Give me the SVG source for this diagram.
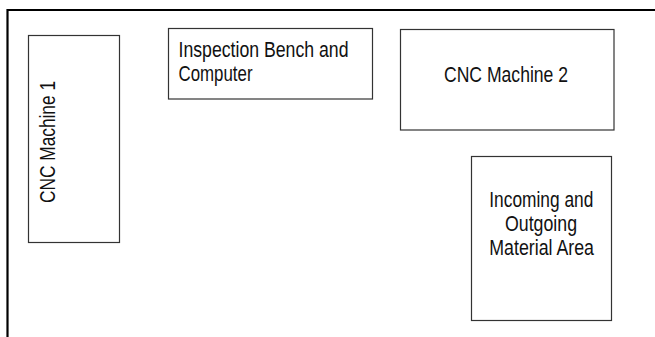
<svg xmlns="http://www.w3.org/2000/svg" width="655" height="337" viewBox="0 0 655 337">
<style>
.box{fill:#ffffff;stroke:#333333;stroke-width:1.2}
.lbl{font-family:"Liberation Sans",Arial,sans-serif;font-size:22px;fill:#111111}
.frame{fill:none;stroke:#000000;stroke-width:2.2}
</style>
<rect x="0" y="0" width="655" height="337" fill="#ffffff"/>
<g id="connectors">
<path class="frame" d="M7.5,337 V10 H655"/>
</g>
<g id="cnc1">
<rect class="box" x="28.5" y="35.5" width="91" height="207"/>
<text class="lbl" transform="translate(55,203) rotate(-90)" x="0" y="0" textLength="122" lengthAdjust="spacingAndGlyphs">CNC Machine 1</text>
</g>
<g id="inspection">
<rect class="box" x="168.5" y="28.5" width="204" height="70.5"/>
<text class="lbl" x="178.5" y="57" textLength="170" lengthAdjust="spacingAndGlyphs">Inspection Bench and</text>
<text class="lbl" x="178.5" y="80.5" textLength="74" lengthAdjust="spacingAndGlyphs">Computer</text>
</g>
<g id="cnc2">
<rect class="box" x="400.5" y="29.5" width="213.5" height="100.5"/>
<text class="lbl" x="444" y="82" textLength="124" lengthAdjust="spacingAndGlyphs">CNC Machine 2</text>
</g>
<g id="material">
<rect class="box" x="471.5" y="156.5" width="140" height="164"/>
<text class="lbl" x="489.3" y="207" textLength="104" lengthAdjust="spacingAndGlyphs">Incoming and</text>
<text class="lbl" x="505" y="231" textLength="72" lengthAdjust="spacingAndGlyphs">Outgoing</text>
<text class="lbl" x="489.3" y="255" textLength="104.7" lengthAdjust="spacingAndGlyphs">Material Area</text>
</g>
</svg>
